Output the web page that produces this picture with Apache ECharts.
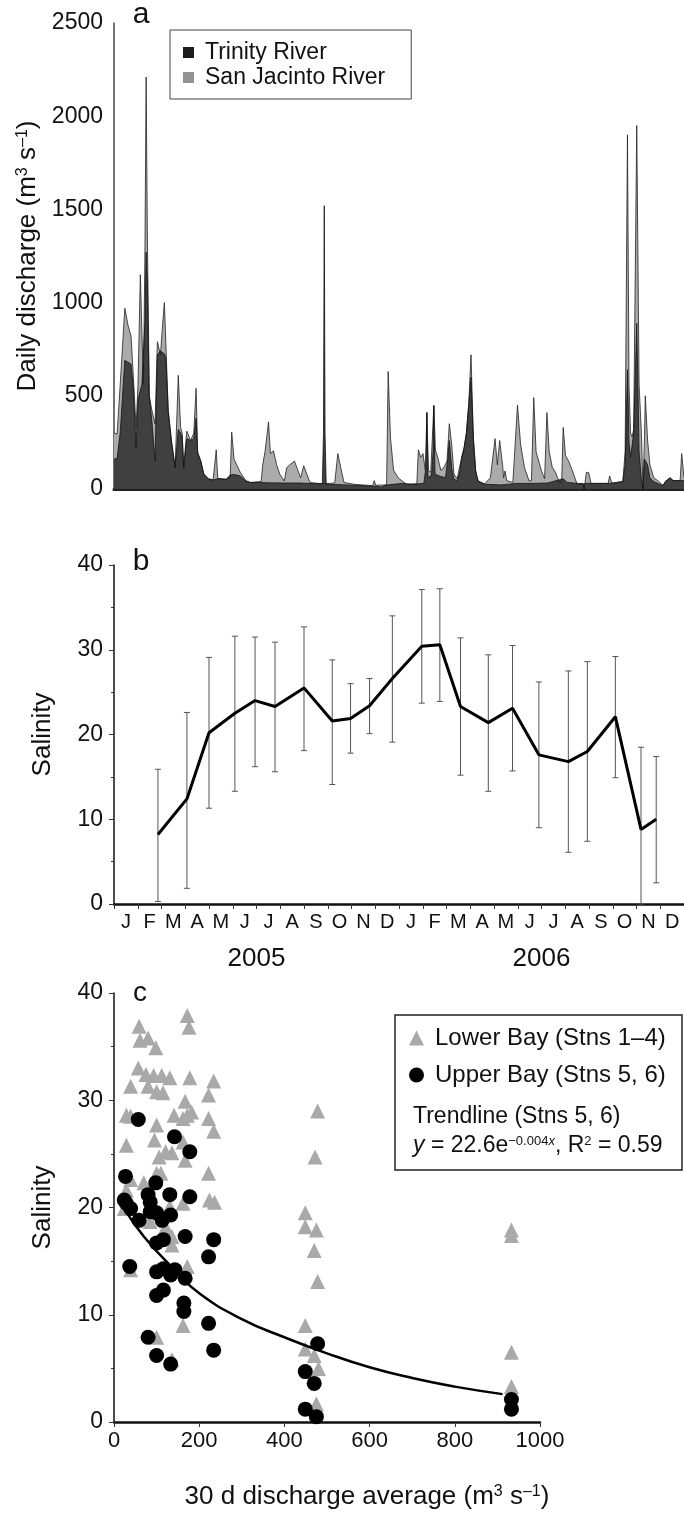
<!DOCTYPE html>
<html>
<head>
<meta charset="utf-8">
<script src="https://cdn.jsdelivr.net/npm/echarts@6.0.0/dist/echarts.min.js"></script>
<style>
html, body { margin: 0; padding: 0; background: #fff; }
#chart { width: 684px; height: 1517px; }
</style>
</head>
<body>
<div id="chart"></div>
<script>
// panel a: daily discharge, [day since 1 Jan 2005, m3/s]
var sanJacintoFlow = [[0,300],[4,295],[8,560],[14,970],[18,880],[22,820],[25,600],[28.5,330],[31,560],[34,1150],[36,850],[38,560],[40,1300],[41.5,2210],[43,1390],[45.5,500],[49,420],[53,350],[56,790],[58.5,800],[60,720],[62,840],[65,1000],[67,780],[70,420],[74.5,250],[79,120],[83,610],[86,330],[88,300],[90,120],[94,310],[99,260],[103,300],[106,540],[108,200],[112,150],[116,80],[122,55],[128,50],[132,210],[134,57],[145,52],[150,60],[152,305],[155,160],[163,90],[170,45],[176,35],[190,40],[192,130],[195,200],[199.5,360],[202,190],[206,205],[210,130],[214,80],[220,43],[223,115],[227,130],[233,150],[237,105],[241,60],[245,125],[249,80],[253,35],[268,28],[285,32],[289,190],[293,110],[297,35],[310,25],[334,18],[336,45],[338,20],[352,22],[354,630],[357,275],[361,100],[367,60],[372,43],[378,25],[391,28],[393,210],[396,170],[399,190],[402,100],[404,410],[406,97],[409,90],[413,450],[415,210],[418,170],[422,100],[426,115],[430,150],[433,350],[436,240],[439,80],[443,55],[449,170],[452,220],[455,300],[458,450],[461,720],[464,275],[467,97],[470,43],[478,25],[486,60],[492,270],[495,130],[498,260],[502,120],[503,60],[505,97],[507,45],[515,35],[521,450],[525,240],[530,115],[536,43],[539,45],[542,490],[545,200],[547,200],[552,97],[556,55],[559,410],[562,200],[566,115],[570,90],[575,35],[578,35],[580,330],[583,180],[587,150],[592,97],[598,25],[606,25],[607,0],[608,30],[610,90],[613,88],[616,30],[638,30],[640,70],[643,30],[657,40],[660,200],[663,1900],[665,560],[667,300],[669,280],[671,320],[675,1950],[678,560],[681,300],[683,0],[685,280],[686,500],[689,260],[692,130],[697,60],[702,45],[709,20],[712,40],[718,60],[722,45],[731,45],[733,190],[736,60]];
var trinityFlow = [[0,160],[4,165],[8,300],[14,690],[18,680],[22,670],[25,540],[28.5,220],[31,480],[34,530],[36,560],[38,560],[40,900],[41.5,1270],[43,1120],[45.5,500],[49,360],[53,150],[56,720],[60,740],[65,725],[67,700],[70,420],[74.5,240],[79,115],[83,320],[86,300],[88,280],[90,115],[94,270],[99,260],[103,270],[106,380],[108,190],[112,150],[116,80],[122,52],[128,48],[134,55],[145,52],[150,75],[155,78],[163,70],[170,43],[176,35],[185,35],[200,33],[220,32],[240,32],[260,28],[269,30],[270.5,300],[271.5,1520],[272.5,300],[274,25],[300,22],[320,18],[340,15],[345,10],[350,20],[360,25],[372,30],[385,25],[400,30],[403,120],[404,410],[405.5,60],[410,75],[412,200],[413,445],[414.5,80],[420,70],[428,60],[431,160],[433,260],[436,114],[439,52],[443,45],[446,80],[449,170],[452,220],[455,300],[458,450],[461,600],[464,275],[467,97],[470,43],[480,25],[500,22],[520,30],[540,30],[560,32],[580,55],[585,35],[600,30],[606,30],[607,0],[608,30],[640,30],[657,40],[660,130],[663,640],[665,250],[667,170],[669,170],[671,300],[675,890],[678,200],[681,50],[683,0],[685,160],[686,170],[689,130],[692,60],[697,40],[709,16],[712,40],[718,60],[722,45],[736,45]];

// panel b: monthly salinity (month index from Jan 2005)
var months = ['J','F','M','A','M','J','J','A','S','O','N','D','J','F','M','A','M','J','J','A','S','O','N','D'];
var years = ['2005', '2006'];
var sampleMonth = [1.85,3.07,4.0,5.09,5.94,6.78,8.0,9.19,9.96,10.76,11.72,12.96,13.72,14.59,15.76,16.78,17.89,19.13,19.93,21.11,22.19,22.83];
var salMean = [8.2,12.4,20.2,22.5,24.0,23.3,25.5,21.6,21.9,23.4,26.6,30.4,30.6,23.3,21.4,23.1,17.6,16.8,18.0,22.1,8.8,10.0];
var salHigh = [15.9,22.6,29.1,31.6,31.5,30.9,32.7,28.8,26.0,26.6,34.0,37.1,37.2,31.4,29.4,30.5,26.2,27.5,28.6,29.2,18.5,17.4];
var salLow = [0.3,1.85,11.3,13.3,16.2,15.6,18.1,14.1,17.8,20.1,19.1,23.7,23.9,15.2,13.3,15.7,9.0,6.1,7.4,14.9,0,2.5];

// panel c: salinity vs 30 d discharge average
var lowerX = [172,176,59,61,80,98,57,75,93,112,131,80,100,115,178,234,222,39,167,172,182,141,162,29,39,222,234,100,95,29,106,121,136,162,167,100,110,222,39,29,70,224,236,162,131,24,85,121,136,136,172,39,167,162,100,136,449,449,475,470,478,478,472,449,449,470,480,475,933,933,933,933];
var lowerY = [37.9,36.8,36.9,35.6,35.8,34.9,33.0,32.4,32.3,32.3,32.1,31.3,30.8,30.7,32.1,31.8,30.5,31.3,29.9,28.6,28.9,28.6,28.3,28.6,28.5,28.3,27.1,27.7,26.3,25.8,24.7,25.2,25.1,26.1,24.4,23.2,23.2,23.2,22.6,21.6,22.3,20.7,20.5,20.4,20.1,19.9,18.7,18.2,17.3,16.5,14.5,14.2,14.0,9.0,7.9,5.8,19.5,18.2,17.9,16.0,13.1,29.0,24.7,9.0,6.8,6.2,5.0,1.7,17.9,17.4,6.5,3.3];
var upperX = [57,142,178,27,98,80,85,131,178,24,29,39,59,85,100,113,133,100,116,167,234,222,37,100,116,133,143,167,100,116,164,164,222,80,100,133,234,449,449,470,478,475,933,933];
var upperY = [28.2,26.6,25.2,22.9,22.3,21.2,20.5,21.2,21.0,20.7,20.4,19.9,18.8,19.6,19.5,18.8,19.3,16.7,17.0,17.3,17.0,15.4,14.5,14.0,14.3,13.7,14.2,13.4,11.8,12.3,11.1,10.3,9.2,7.9,6.2,5.4,6.7,4.7,1.2,3.6,7.3,0.5,2.1,1.2];
var trendX = [24,70,142,200,300,400,500,600,700,800,912];
var trendY = [19.9,17.3,14.2,12.0,9.6,7.9,6.4,5.1,4.1,3.3,2.6];

var FONT = '"Liberation Sans", Arial, sans-serif';
var INK = '#111';

function zip(xs, ys) {
    return xs.map(function (x, i) { return [x, ys[i]]; });
}

function plain(v) {
    return String(v);
}

function nameRich(size) {
    return {
        t: { fontSize: size, fontFamily: FONT, color: INK },
        s: { fontSize: Math.round(size * 0.6), fontFamily: FONT, color: INK, verticalAlign: 'top' }
    };
}

var errData = sampleMonth.map(function (m, i) { return [m, salLow[i], salHigh[i]]; });

function renderErr(params, api) {
    var x = api.value(0);
    var lo = api.coord([x, api.value(1)]);
    var hi = api.coord([x, api.value(2)]);
    var w = 3;
    var st = { stroke: '#555', lineWidth: 1 };
    return {
        type: 'group',
        children: [
            { type: 'line', shape: { x1: lo[0], y1: lo[1], x2: hi[0], y2: hi[1] }, style: st },
            { type: 'line', shape: { x1: hi[0] - w, y1: hi[1], x2: hi[0] + w, y2: hi[1] }, style: st },
            { type: 'line', shape: { x1: lo[0] - w, y1: lo[1], x2: lo[0] + w, y2: lo[1] }, style: st }
        ]
    };
}

var tickLabel = { fontSize: 23, fontFamily: FONT, color: INK, formatter: plain };

var myChart = echarts.init(document.getElementById('chart'));
var option = {
    backgroundColor: '#fff',
    animation: false,
    textStyle: { fontFamily: FONT },
    grid: [
        { left: 114, top: 23, width: 570, height: 466 },
        { left: 114, top: 565, width: 570, height: 339 },
        { left: 114, top: 993, width: 426, height: 429 }
    ],
    legend: [
        {
            orient: 'vertical',
            left: 170,
            top: 30,
            padding: [11, 26, 10, 13],
            borderColor: '#444',
            borderWidth: 1,
            itemWidth: 11,
            itemHeight: 11,
            itemGap: 2,
            icon: 'rect',
            textStyle: { fontSize: 23, fontFamily: FONT, color: INK, padding: [0, 0, 0, 6] },
            data: [
                { name: 'Trinity River', itemStyle: { color: '#1c1c1c' } },
                { name: 'San Jacinto River', itemStyle: { color: '#929292' } }
            ]
        },
        {
            orient: 'vertical',
            left: 409,
            top: 1026,
            padding: 0,
            itemWidth: 15,
            itemHeight: 15,
            itemGap: 13,
            textStyle: { fontSize: 24, fontFamily: FONT, color: INK, padding: [0, 0, 0, 6] },
            data: [
                { name: 'Lower Bay (Stns 1–4)', icon: 'triangle' },
                { name: 'Upper Bay (Stns 5, 6)', icon: 'circle' }
            ]
        }
    ],
    xAxis: [
        {
            gridIndex: 0, type: 'value', min: 0, max: 736,
            axisLine: { lineStyle: { color: '#222', width: 3 } },
            axisTick: { show: false }, axisLabel: { show: false }, splitLine: { show: false }
        },
        {
            gridIndex: 1, type: 'value', min: 0, max: 24, show: false
        },
        {
            gridIndex: 1, type: 'category', data: months, position: 'bottom',
            axisLine: { lineStyle: { color: '#111', width: 2.5 } },
            axisTick: { show: true, length: 5, interval: 0, lineStyle: { color: '#333', width: 1 } },
            axisLabel: { interval: 0, fontSize: 20, fontFamily: FONT, color: INK, margin: 8 },
            splitLine: { show: false }
        },
        {
            gridIndex: 1, type: 'category', data: years, position: 'bottom', offset: 34,
            axisLine: { show: false }, axisTick: { show: false },
            axisLabel: { fontSize: 26, fontFamily: FONT, color: INK, margin: 8 }
        },
        {
            gridIndex: 2, type: 'value', min: 0, max: 1000, interval: 200,
            axisLine: { lineStyle: { color: '#111', width: 2.5 } },
            axisTick: { length: 5, lineStyle: { color: '#333' } },
            axisLabel: { fontSize: 22, fontFamily: FONT, color: INK, margin: 8, formatter: plain },
            splitLine: { show: false },
            name: '{t|30 d discharge average (m}{s|3}{t| s}{s|–1}{t|)}',
            nameLocation: 'middle', nameGap: 62,
            nameTextStyle: { rich: nameRich(26), padding: [0, 0, 0, 80] }
        }
    ],
    yAxis: [
        {
            gridIndex: 0, type: 'value', min: 0, max: 2500, interval: 500,
            axisLine: { show: true, lineStyle: { color: '#444', width: 1.5 } },
            axisTick: { show: false },
            axisLabel: Object.assign({ margin: 11 }, tickLabel),
            splitLine: { show: false },
            name: '{t|Daily discharge (m}{s|3}{t| s}{s|–1}{t|)}',
            nameLocation: 'middle', nameRotate: 90, nameGap: 66,
            nameTextStyle: { rich: nameRich(26) }
        },
        {
            gridIndex: 1, type: 'value', min: 0, max: 40, interval: 10,
            axisLine: { show: true, lineStyle: { color: '#111', width: 1.5 } },
            axisTick: { length: 5, lineStyle: { color: '#333' } },
            minorTick: { show: true, splitNumber: 2, length: 3, lineStyle: { color: '#333' } },
            axisLabel: Object.assign({ margin: 11 }, tickLabel),
            splitLine: { show: false },
            name: 'Salinity', nameLocation: 'middle', nameRotate: 90, nameGap: 58,
            nameTextStyle: { fontSize: 26, fontFamily: FONT, color: INK }
        },
        {
            gridIndex: 2, type: 'value', min: 0, max: 40, interval: 10,
            axisLine: { show: true, lineStyle: { color: '#111', width: 1.5 } },
            axisTick: { length: 5, lineStyle: { color: '#333' } },
            minorTick: { show: true, splitNumber: 2, length: 3, lineStyle: { color: '#333' } },
            axisLabel: Object.assign({ margin: 11 }, tickLabel),
            splitLine: { show: false },
            name: 'Salinity', nameLocation: 'middle', nameRotate: 90, nameGap: 58,
            nameTextStyle: { fontSize: 26, fontFamily: FONT, color: INK }
        }
    ],
    series: [
        {
            name: 'San Jacinto River', type: 'line', xAxisIndex: 0, yAxisIndex: 0,
            data: sanJacintoFlow, showSymbol: false, symbol: 'none',
            itemStyle: { color: '#929292' },
            lineStyle: { color: '#222', width: 0.8 },
            areaStyle: { color: '#ababab', opacity: 1 }
        },
        {
            name: 'Trinity River', type: 'line', xAxisIndex: 0, yAxisIndex: 0,
            data: trinityFlow, showSymbol: false, symbol: 'none',
            itemStyle: { color: '#1c1c1c' },
            lineStyle: { color: '#111', width: 0.8 },
            areaStyle: { color: '#404040', opacity: 1 }
        },
        {
            name: 'range', type: 'custom', xAxisIndex: 1, yAxisIndex: 1,
            data: errData, renderItem: renderErr, encode: { x: 0, y: [1, 2] }
        },
        {
            name: 'Salinity', type: 'line', xAxisIndex: 1, yAxisIndex: 1,
            data: zip(sampleMonth, salMean), symbol: 'none',
            lineStyle: { color: '#000', width: 3 }, z: 5
        },
        {
            name: 'Lower Bay (Stns 1–4)', type: 'scatter', xAxisIndex: 4, yAxisIndex: 2,
            data: zip(lowerX, lowerY), symbol: 'triangle', symbolSize: 15,
            itemStyle: { color: '#a9a9a9', opacity: 1 }
        },
        {
            name: 'Upper Bay (Stns 5, 6)', type: 'scatter', xAxisIndex: 4, yAxisIndex: 2,
            data: zip(upperX, upperY), symbol: 'circle', symbolSize: 15,
            itemStyle: { color: '#000', opacity: 1 }
        },
        {
            name: 'Trendline (Stns 5, 6)', type: 'line', xAxisIndex: 4, yAxisIndex: 2,
            data: zip(trendX, trendY), symbol: 'none', smooth: true,
            lineStyle: { color: '#000', width: 2.5 }
        }
    ],
    graphic: [
        { type: 'text', style: { x: 141, y: 15, text: 'a', font: '30px ' + FONT, fill: INK, textAlign: 'center', textVerticalAlign: 'middle' } },
        { type: 'text', style: { x: 141, y: 562, text: 'b', font: '30px ' + FONT, fill: INK, textAlign: 'center', textVerticalAlign: 'middle' } },
        { type: 'text', style: { x: 140, y: 993, text: 'c', font: '28px ' + FONT, fill: INK, textAlign: 'center', textVerticalAlign: 'middle' } },
        { type: 'rect', shape: { x: 395, y: 1015, width: 287, height: 155 }, style: { fill: 'none', stroke: '#222', lineWidth: 1.5 } },
        { type: 'text', style: { x: 413, y: 1117, text: 'Trendline (Stns 5, 6)', font: '23px ' + FONT, fill: INK, textVerticalAlign: 'middle' } },
        {
            type: 'text',
            style: {
                x: 413, y: 1146, textVerticalAlign: 'middle',
                text: '{i|y}{t| = 22.6e}{s|−0.004}{si|x}{t|, R}{s|2}{t| = 0.59}',
                rich: {
                    t: { fontSize: 23, fontFamily: FONT, fill: INK },
                    i: { fontSize: 23, fontFamily: FONT, fontStyle: 'italic', fill: INK },
                    s: { fontSize: 13, fontFamily: FONT, fill: INK, verticalAlign: 'top' },
                    si: { fontSize: 13, fontFamily: FONT, fontStyle: 'italic', fill: INK, verticalAlign: 'top' }
                }
            }
        }
    ]
};
myChart.setOption(option);
</script>
</body>
</html>
